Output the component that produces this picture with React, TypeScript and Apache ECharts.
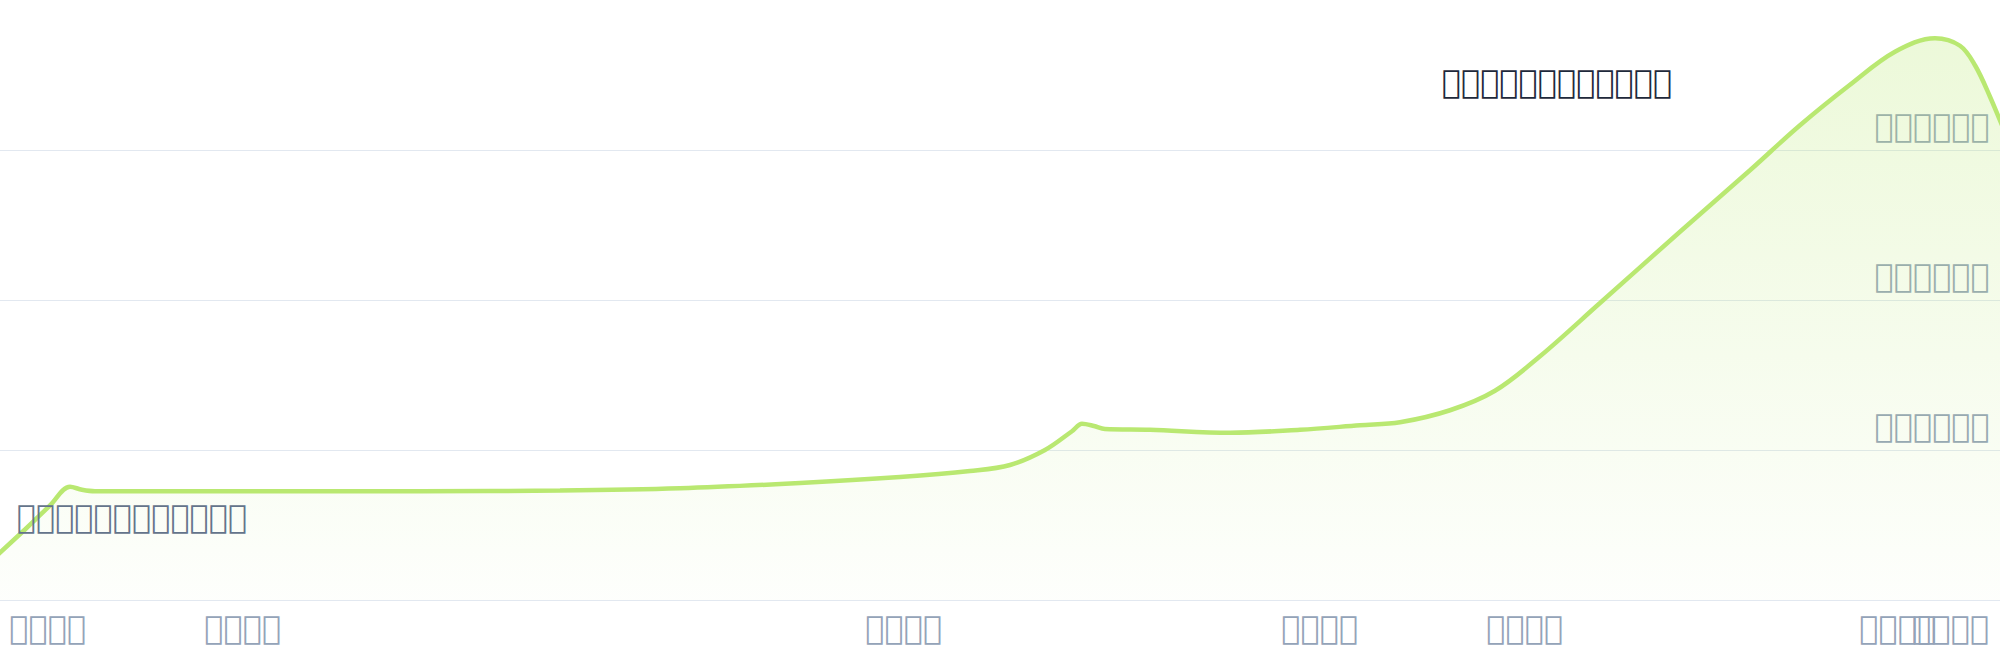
import { useEffect, useRef } from "react";
import * as echarts from "echarts";

// day offsets from START
const START = Date.UTC(2018, 0, 1);
const DAY = 86400000;

const dayOffsets = [
  -45, 25, 50, 70, 82, 95, 250, 420, 560, 680, 800, 900, 970, 1010, 1045, 1072,
  1082, 1094, 1105, 1150, 1230, 1300, 1360, 1400, 1450, 1495, 1540, 1600, 1680,
  1750, 1800, 1850, 1895, 1935, 1960, 1975, 1990, 2010,
];
const values = [
  4000, 47000, 63000, 75500, 73500, 72500, 72500, 72500, 73000, 74500, 78000,
  82000, 86000, 90000, 100000, 112500, 117500, 116000, 114000, 113500, 111500,
  113500, 116500, 118500, 126500, 139500, 162500, 198000, 245500, 286500,
  316500, 343500, 365500, 374500, 369500, 356500, 335500, 303500,
];

// x label positions (day offsets) and texts; the reference shows only
// missing-glyph boxes, so the texts are kept as box-rendering characters
const labelOffsets = [48, 243, 904, 1320, 1525, 1898, 1951];
const xLabels = [
  "\ue000\ue001\ue002\ue003",
  "\ue000\ue001\ue002\ue004",
  "\ue000\ue001\ue002\ue005",
  "\ue000\ue001\ue002\ue006",
  "\ue000\ue001\ue002\ue007",
  "\ue000\ue001\ue002\ue008",
  "\ue000\ue001\ue002\ue009",
];
const yTicks = [100000, 200000, 300000];
const yLabels = [
  "\ue010\ue011\ue011\ue011\ue011\ue011",
  "\ue012\ue011\ue011\ue011\ue011\ue011",
  "\ue013\ue011\ue011\ue011\ue011\ue011",
];
const peakNote = "\ue020\ue021\ue022\ue023\ue024\ue025\ue026\ue027\ue028\ue029\ue02a\ue02b";
const lowNote = "\ue030\ue031\ue032\ue033\ue034\ue035\ue036\ue037\ue038\ue039\ue03a\ue03b";

const FONT = "DejaVu Sans";

export default function App() {
  const chartRef = useRef<HTMLDivElement>(null);

  useEffect(() => {
    if (!chartRef.current) return;
    const chart = echarts.init(chartRef.current, null, { renderer: "svg" });

    const seriesData = dayOffsets.map((d, i) => [START + d * DAY, values[i]]);
    const labelValues = labelOffsets.map((d) => START + d * DAY);
    // the last label overlaps its neighbour; it sits on a second axis so
    // that ECharts does not drop either of them
    const mainLabels = labelValues.slice(0, -1);
    const lastLabels = labelValues.slice(-1);

    const xBase = {
      type: "value",
      position: "bottom",
      min: START,
      max: START + 2000 * DAY,
      axisTick: { show: false },
      splitLine: { show: false },
    };
    const labelBase = {
      hideOverlap: false,
      showMinLabel: true,
      showMaxLabel: true,
      color: "#94a3b8",
      fontFamily: FONT,
      fontSize: 32,
      margin: 12,
      formatter: (v: number) => xLabels[labelValues.indexOf(v)] ?? "",
    };

    chart.setOption({
      animation: false,
      textStyle: { fontFamily: FONT },
      grid: { left: 0, right: 0, top: -2, bottom: 60 },
      xAxis: [
        {
          ...xBase,
          axisLine: { show: true, lineStyle: { color: "#e2e8f0" } },
          axisLabel: { ...labelBase, customValues: mainLabels },
        },
        {
          ...xBase,
          offset: 0,
          axisLine: { show: false },
          axisLabel: { ...labelBase, customValues: lastLabels },
        },
      ],
      yAxis: {
        type: "value",
        position: "right",
        min: 0,
        max: 400000,
        interval: 100000,
        axisLine: { show: false },
        axisTick: { show: false },
        splitLine: { showMaxLine: false, lineStyle: { color: "#e2e8f0" } },
        axisLabel: {
          inside: true,
          showMinLabel: false,
          showMaxLabel: false,
          color: "#94a3b8",
          fontFamily: FONT,
          fontSize: 32,
          margin: 10,
          verticalAlign: "bottom",
          padding: [0, 0, 8, 0],
          formatter: (v: number) => yLabels[yTicks.indexOf(v)] ?? "",
        },
      },
      graphic: [
        {
          type: "text",
          left: 1442,
          top: 66,
          z: 10,
          style: { text: peakNote, fill: "#1e293b", fontSize: 32, fontFamily: FONT },
        },
        {
          type: "text",
          left: 17,
          top: 501,
          z: 10,
          style: { text: lowNote, fill: "#64748b", fontSize: 32, fontFamily: FONT },
        },
      ],
      series: [
        {
          type: "line",
          data: seriesData,
          smooth: 0.35,
          showSymbol: false,
          lineStyle: { color: "#b9e871", width: 4.5 },
          itemStyle: { color: "#b9e871" },
          areaStyle: {
            color: new echarts.graphic.LinearGradient(0, 0, 0, 1, [
              { offset: 0, color: "rgba(185,232,113,0.38)" },
              { offset: 1, color: "rgba(185,232,113,0.03)" },
            ]),
          },
        },
      ],
    });

    return () => {
      chart.dispose();
    };
  }, []);

  return (
    <div
      ref={chartRef}
      style={{ position: "absolute", left: 0, top: 0, width: 2000, height: 660 }}
    />
  );
}
